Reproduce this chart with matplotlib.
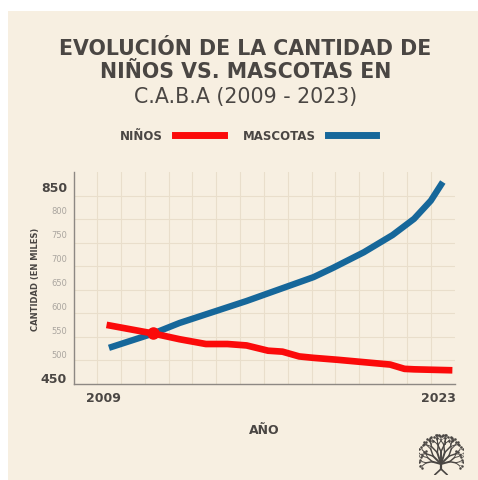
import numpy as np
import matplotlib.pyplot as plt
from matplotlib.patches import Rectangle

# niños (thousands) in CABA
ninos_x = [2009.15, 2011.1, 2012.2, 2013.3, 2014.2, 2015.0, 2015.9, 2016.5,
           2017.2, 2017.8, 2018.8, 2019.9, 2021.0, 2021.6, 2022.0, 2023.6]
ninos_y = [559, 541, 529, 519, 519, 516, 505, 503,
           493, 490, 486, 481, 476, 467, 466, 464]

# mascotas (thousands)
mascotas_x = [2009.25, 2011.1, 2012.2, 2013.6, 2015.0, 2016.4, 2017.8, 2018.6,
              2019.9, 2021.1, 2022.0, 2022.7, 2023.2]
mascotas_y = [511, 541, 563, 586, 609, 634, 659, 678,
              711, 747, 781, 819, 858]

cruce = (2011.1, 541)

y_ticks = [450, 500, 550, 600, 650, 700, 750, 800, 850]
x_ticks = [2009, 2023]

BG = '#f7efe1'
DARK = '#4a4643'
RED = '#fb0a0a'
BLUE = '#16679a'

plt.rcParams['font.family'] = ['DejaVu Sans']

fig = plt.figure(figsize=(4.78, 4.81), dpi=100)
fig.patch.set_facecolor('white')
fig.add_artist(Rectangle((8 / 478, 0), 1, (481 - 12) / 481, transform=fig.transFigure,
                         facecolor=BG, edgecolor='none', zorder=-10))

# title
fig.text(0.513, 0.898, 'EVOLUCIÓN DE LA CANTIDAD DE', ha='center', va='center',
         fontsize=14.8, fontweight='bold', color=DARK)
fig.text(0.513, 0.850, 'NIÑOS VS. MASCOTAS EN', ha='center', va='center',
         fontsize=14.8, fontweight='bold', color=DARK)
fig.text(0.513, 0.798, 'C.A.B.A (2009 - 2023)', ha='center', va='center',
         fontsize=14.8, color=DARK)

# legend
ly = 1 - 136 / 481
fig.text(141 / 478, ly, 'NIÑOS', ha='center', va='center', fontsize=8.5,
         fontweight='bold', color=DARK)
fig.add_artist(plt.Line2D([175 / 478, 224 / 478], [ly, ly], color=RED, lw=5,
                          transform=fig.transFigure))
fig.text(279 / 478, ly, 'MASCOTAS', ha='center', va='center', fontsize=8.5,
         fontweight='bold', color=DARK)
fig.add_artist(plt.Line2D([328 / 478, 376 / 478], [ly, ly], color=BLUE, lw=5,
                          transform=fig.transFigure))

ax = fig.add_axes([74 / 478, 1 - 385 / 481, 381 / 478, 212 / 481])
ax.set_facecolor(BG)
ax.set_xlim(2007.79, 2023.71)
ax.set_ylim(435.3, 879)

# decorative grid, one column per year
for gx in np.arange(2008.76, 2023.5, 0.995):
    ax.axvline(gx, color='#e9decb', lw=0.8, zorder=0)
for gy in np.linspace(435.3, 879, 10)[1:-1]:
    ax.axhline(gy, color='#e9decb', lw=0.8, zorder=0)

ax.plot(ninos_x, ninos_y, color=RED, lw=4.8, solid_capstyle='butt',
        solid_joinstyle='round', zorder=3)
ax.plot(mascotas_x, mascotas_y, color=BLUE, lw=4.6, solid_capstyle='butt',
        solid_joinstyle='round', zorder=2)
ax.plot(*cruce, 'o', color=RED, ms=8, zorder=4)

for s in ['top', 'right']:
    ax.spines[s].set_visible(False)
for s in ['left', 'bottom']:
    ax.spines[s].set_color('#8d8883')
    ax.spines[s].set_linewidth(1)

ax.tick_params(length=0)
ax.set_yticks(y_ticks)
ax.set_yticklabels([str(v) for v in y_ticks])
for lab, v in zip(ax.get_yticklabels(), y_ticks):
    if v in (450, 850):
        lab.set_fontsize(9)
        lab.set_fontweight('bold')
        lab.set_color(DARK)
    else:
        lab.set_fontsize(6)
        lab.set_color('#aaa59f')
ax.tick_params(axis='y', pad=5)

ax.set_xticks(x_ticks)
ax.set_xticklabels([str(v) for v in x_ticks], fontsize=9, fontweight='bold', color=DARK)
ax.tick_params(axis='x', pad=5)

ax.set_ylabel('CANTIDAD (EN MILES)', fontsize=6, fontweight='bold', color=DARK)
ax.yaxis.set_label_coords(-0.09, 0.5)
ax.set_xlabel('AÑO', fontsize=9, fontweight='bold', color=DARK, labelpad=14)

# small tree logo
tree = fig.add_axes([419 / 478, 1 - 476 / 481, 44 / 478, 46 / 481])
tree.set_xlim(-1.1, 1.1)
tree.set_ylim(0, 2.3)
tree.axis('off')


def branch(x, y, ang, length, depth):
    x2 = x + length * np.cos(ang)
    y2 = y + length * np.sin(ang)
    tree.plot([x, x2], [y, y2], color=DARK, lw=0.35 + 0.35 * depth,
              solid_capstyle='round')
    if depth == 0:
        tree.plot(x2, y2, 'o', color=DARK, ms=1.8, mew=0)
        return
    for d in (-0.45, 0.45):
        branch(x2, y2, ang + d, length * 0.68, depth - 1)


tree.plot([-0.3, 0, 0.3], [0.02, 0.3, 0.02], color=DARK, lw=1.2)
tree.plot([0, 0], [0.3, 0.55], color=DARK, lw=1.6)
for a, ln in zip([15, 45, 72, 90, 108, 135, 165], [0.45, 0.55, 0.6, 0.62, 0.6, 0.55, 0.45]):
    branch(0, 0.55, np.radians(a), ln, 3)

fig.savefig('out.png', dpi=100, facecolor=fig.get_facecolor())
